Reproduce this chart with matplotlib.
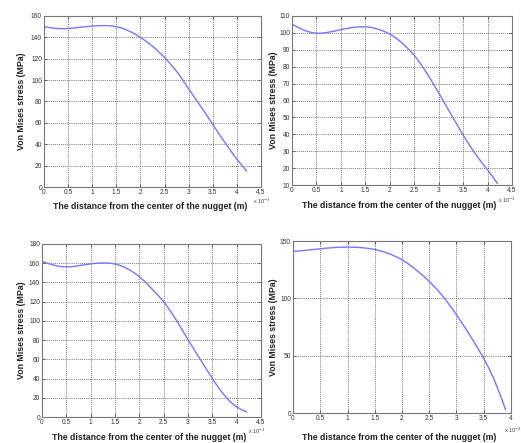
import matplotlib
matplotlib.use("Agg")
import matplotlib.pyplot as plt

plt.rcParams['font.family'] = ['Liberation Sans', 'DejaVu Sans']

# distance from nugget center, in units of 1e-3 m
x_a = [0.0, 0.1, 0.2, 0.3, 0.4, 0.5, 0.6, 0.7, 0.8, 0.9, 1.0, 1.1, 1.2, 1.3, 1.4,
       1.5, 1.6, 1.7, 1.8, 1.9, 2.0, 2.1, 2.2, 2.3, 2.4, 2.5, 2.6, 2.7, 2.8, 2.9,
       3.0, 3.1, 3.2, 3.3, 3.4, 3.5, 3.6, 3.7, 3.8, 3.9, 4.0, 4.1, 4.2]
stress_a = [150.0, 149.3, 148.6, 148.2, 148.1, 148.3, 148.7, 149.2, 149.7, 150.2,
            150.6, 150.9, 151.0, 151.0, 150.7, 150.0, 148.9, 147.2, 145.2, 142.8,
            140.0, 136.9, 133.5, 129.8, 125.6, 121.2, 116.3, 111.0, 105.2, 98.5,
            91.8, 85.2, 78.7, 72.2, 65.4, 58.5, 51.6, 45.0, 38.5, 32.0, 26.0, 20.5, 15.0]

x_b = x_a
stress_b = [105.2, 103.6, 102.2, 101.0, 100.2, 99.8, 99.8, 100.2, 100.7, 101.3,
            101.9, 102.5, 103.0, 103.4, 103.6, 103.6, 103.3, 102.7, 101.8, 100.7,
            99.3, 97.5, 95.3, 92.7, 89.9, 86.8, 83.0, 78.7, 74.2, 69.5,
            64.5, 59.5, 54.5, 49.5, 44.5, 39.5, 35.0, 30.5, 26.5, 22.5, 19.0, 15.0, 11.0]

x_c = x_a
stress_c = [162.0, 160.2, 158.6, 157.3, 156.5, 156.2, 156.4, 157.0, 157.8, 158.6,
            159.3, 159.9, 160.2, 160.3, 160.0, 159.2, 157.8, 155.7, 153.0, 149.8,
            146.0, 141.5, 136.5, 131.0, 125.7, 120.0, 113.0, 105.5, 97.5, 89.0,
            80.5, 72.2, 64.0, 56.0, 48.0, 40.0, 32.5, 25.5, 19.5, 14.5, 10.5, 7.5, 5.5]

x_d = x_a[:40]
stress_d = [141.0, 141.3, 141.7, 142.2, 142.7, 143.2, 143.7, 144.1, 144.4, 144.6,
            144.7, 144.6, 144.4, 144.0, 143.4, 142.6, 141.5, 140.0, 138.2, 136.1,
            133.7, 130.6, 127.1, 123.2, 119.1, 114.7, 109.9, 104.6, 98.8, 92.4,
            85.6, 78.5, 71.2, 63.6, 55.8, 47.5, 38.5, 28.0, 16.0, 3.0]

xticks_45 = [0, 0.5, 1, 1.5, 2, 2.5, 3, 3.5, 4, 4.5]
xticks_4 = [0, 0.5, 1, 1.5, 2, 2.5, 3, 3.5, 4]
xlabels_45 = ['0', '0.5', '1', '1.5', '2', '2.5', '3', '3.5', '4', '4.5']
xlabels_4 = ['0', '0.5', '1', '1.5', '2', '2.5', '3', '3.5', '4']

xlabel = 'The distance from the center of the nugget (m)'
ylabel = 'Von Mises stress (MPa)'
line_color = '#7676ff'

W, H = 521, 443
fig = plt.figure(figsize=(W / 100, H / 100), dpi=100)


def rect(l, t, r, b):
    return [l / W, 1 - b / H, (r - l) / W, (b - t) / H]


panels = [
    dict(rect=rect(44, 16, 261, 187), x=x_a, y=stress_a, xlim=(0, 4.5), xt=xticks_45, xl=xlabels_45,
         ylim=(0, 160), yt=list(range(0, 161, 20)), xlab_y=207, ylab_x=22, exp=(253, 201)),
    dict(rect=rect(292, 16, 512, 185), x=x_b, y=stress_b, xlim=(0, 4.5), xt=xticks_45, xl=xlabels_45,
         ylim=(10, 110), yt=list(range(10, 111, 10)), xlab_y=206, ylab_x=273, exp=(498, 200)),
    dict(rect=rect(42, 244, 261, 417), x=x_c, y=stress_c, xlim=(0, 4.5), xt=xticks_45, xl=xlabels_45,
         ylim=(0, 180), yt=list(range(0, 181, 20)), xlab_y=437, ylab_x=22, exp=(248, 431)),
    dict(rect=rect(293, 241, 511, 413), x=x_d, y=stress_d, xlim=(0, 4), xt=xticks_4, xl=xlabels_4,
         ylim=(0, 150), yt=[0, 50, 100, 150], xlab_y=438, ylab_x=273, exp=(504, 430)),
]

for p in panels:
    ax = fig.add_axes(p['rect'])
    ax.plot(p['x'], p['y'], color=line_color, lw=1.0)
    ax.set_xlim(*p['xlim'])
    ax.set_ylim(*p['ylim'])
    ax.set_xticks(p['xt'])
    ax.set_xticklabels(p['xl'])
    ax.set_yticks(p['yt'])
    ax.grid(True, color='#444444', linestyle=(0, (1, 1.5)), linewidth=0.6)
    ax.tick_params(direction='in', top=True, right=True, length=2.5, width=0.5,
                   labelsize=4.8, pad=1.5, colors='#333333')
    for s in ax.spines.values():
        s.set_color('#777777')
        s.set_linewidth(0.8)
    l, b, w, h = p['rect']
    fig.text((l + w / 2) - 0.005, 1 - p['xlab_y'] / H, xlabel, ha='center', va='center',
             fontsize=6.3, fontweight='bold', color='#222222')
    fig.text(p['ylab_x'] / W, b + h / 2, ylabel, ha='center', va='center', rotation=90,
             fontsize=6.3, fontweight='bold', color='#222222')
    fig.text(p['exp'][0] / W, 1 - p['exp'][1] / H, r'x 10$^{-3}$', ha='left', va='center',
             fontsize=4.0, color='#444444')

fig.savefig('out.png', dpi=100, facecolor='white')
